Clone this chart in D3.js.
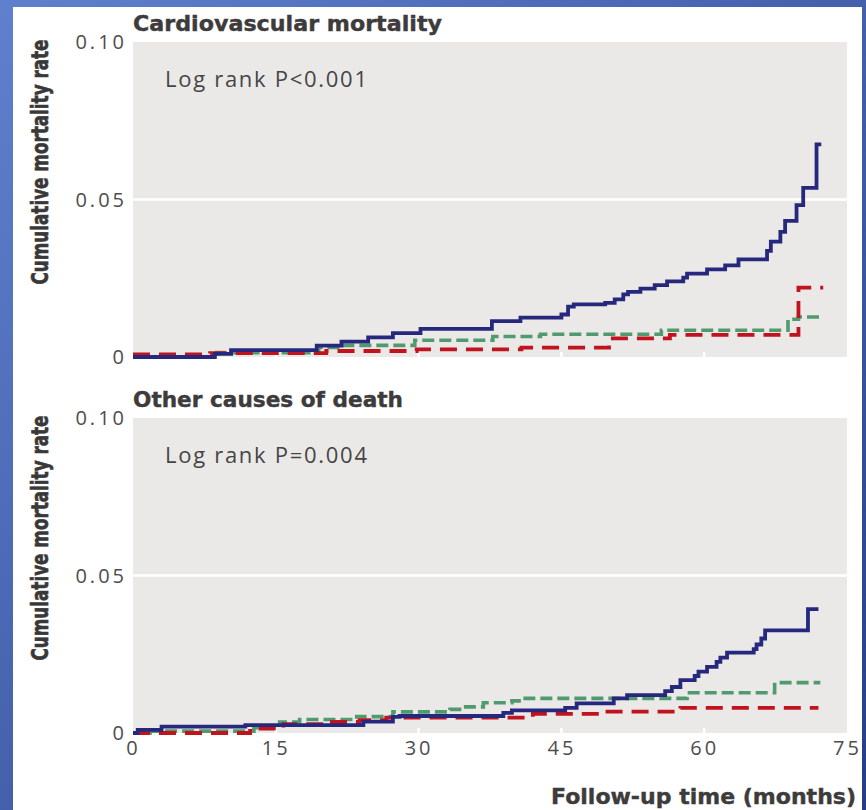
<!DOCTYPE html>
<html>
<head>
<meta charset="utf-8">
<script src="https://cdn.jsdelivr.net/npm/d3@7"></script>
<style>
  body { margin: 0; background: #fff; }
  svg { display: block; }
</style>
</head>
<body>
<svg id="chart"></svg>
<script>
const w = 866;
const h = 810;

const xTicks = [0, 15, 30, 45, 60, 75];
const yTicks = [0, 0.05, 0.10];
const yTickLabels = ["0", "0.05", "0.10"];

const panelTitles = ["Cardiovascular mortality", "Other causes of death"];
const logRankText = ["Log rank P<0.001", "Log rank P=0.004"];

// [months, cumulative rate]
const cvNavy = [[0,0],[8.6,0.001],[10.3,0.0022],[19.3,0.0036],[21.9,0.0049],[24.7,0.0062],[27.3,0.0076],[30.2,0.0089],[37.7,0.0114],[40.7,0.0125],[45.0,0.0135],[45.7,0.016],[46.3,0.0167],[49.6,0.0172],[50.6,0.0183],[51.5,0.0199],[52.0,0.0207],[53.3,0.0217],[54.8,0.0228],[56.1,0.024],[57.8,0.0252],[58.2,0.0265],[60.3,0.0278],[62.2,0.0291],[63.6,0.031],[66.6,0.0337],[67.0,0.0366],[68.0,0.0397],[68.5,0.0432],[69.7,0.0482],[70.4,0.0537],[71.8,0.0675],[72.3,0.0675]];
const cvGreen = [[0,0],[8.8,0.0014],[19.5,0.003],[21.5,0.0037],[29.6,0.0053],[37.8,0.0065],[42.8,0.0072],[55.5,0.0085],[68.8,0.012],[69.9,0.0127],[72.5,0.0127]];
const cvRed = [[0,0.0008],[8.1,0.0012],[20.3,0.0019],[29.8,0.0024],[40.8,0.003],[50.0,0.0059],[56.4,0.007],[69.9,0.022],[72.5,0.022]];

const otherNavy = [[0,0],[0.5,0.001],[3.0,0.002],[11.8,0.0025],[24.2,0.0036],[27.3,0.0051],[28.0,0.0054],[38.9,0.0064],[39.8,0.0072],[45.4,0.008],[46.6,0.0094],[50.5,0.011],[51.9,0.012],[55.9,0.0133],[56.6,0.0146],[57.5,0.0168],[59.0,0.0181],[59.4,0.0195],[60.3,0.021],[61.3,0.0226],[61.7,0.0239],[62.4,0.0255],[65.2,0.0266],[65.5,0.0281],[66.0,0.03],[66.4,0.0326],[70.9,0.0393],[72.0,0.0393]];
const otherGreen = [[0,0],[1.8,0.0006],[12.7,0.0017],[15.4,0.0035],[17.5,0.0043],[23.5,0.0052],[27.3,0.0067],[33.3,0.0075],[34.3,0.0083],[36.8,0.0096],[39.8,0.0102],[40.8,0.011],[58.2,0.0128],[67.4,0.016],[72.2,0.016]];
const otherRed = [[0,0],[12.3,0.0014],[15.8,0.0028],[20.0,0.0035],[23.8,0.0041],[26.6,0.0049],[42.0,0.0061],[49.2,0.0068],[57.5,0.008],[72.0,0.008]];

const panelSeries = [
  [cvGreen, cvRed, cvNavy],
  [otherGreen, otherRed, otherNavy]
];
const seriesStyle = [
  {col: "#4f9b6d", width: 3.6, dash: "12,5"},
  {col: "#c1131d", width: 3.8, dash: "17,9"},
  {col: "#26287d", width: 3.8, dash: null}
];

const svg = d3.select("#chart").attr("width", w).attr("height", h);

// blue frame
const defs = svg.append("defs");
const grad = defs.append("linearGradient").attr("id", "frame")
  .attr("x1", "0").attr("y1", "0").attr("x2", "1").attr("y2", "1");
grad.append("stop").attr("offset", "0").attr("stop-color", "#5f80cd");
grad.append("stop").attr("offset", "0.6").attr("stop-color", "#3f5aa5");
grad.append("stop").attr("offset", "1").attr("stop-color", "#263d86");
svg.append("rect").attr("width", w).attr("height", h).attr("fill", "url(#frame)");
svg.append("rect").attr("x", 13).attr("y", 7).attr("width", 849).attr("height", h - 7).attr("fill", "#fff");

const left = 133, right = 847;
const panelTop = [42, 418];
const panelH = 315;

const x = d3.scaleLinear().domain([0, 75]).range([left, right]);

const tickFont = "'Open Sans', 'Lato', sans-serif";
const boldFont = "'DejaVu Sans', sans-serif";
const titleLen = [309, 270];

panelTop.forEach((top, i) => {
  const y = d3.scaleLinear().domain([0, 0.10]).range([top + panelH, top]);
  const g = svg.append("g");

  g.append("rect").attr("x", left).attr("y", top)
    .attr("width", right - left).attr("height", panelH).attr("fill", "#ebe9e8");

  // horizontal grid at 0.05
  g.append("line").attr("x1", left).attr("x2", right)
    .attr("y1", y(0.05)).attr("y2", y(0.05))
    .attr("stroke", "#fff").attr("stroke-width", 2.5);

  // short white notches at the x ticks
  g.selectAll(".notch").data(xTicks.filter(t => t > 0 && t < 75)).enter()
    .append("line").attr("class", "notch")
    .attr("x1", d => x(d)).attr("x2", d => x(d))
    .attr("y1", top + panelH - 5).attr("y2", top + panelH)
    .attr("stroke", "#fff").attr("stroke-width", 2.5);

  // y tick labels
  g.selectAll(".ylab").data(yTicks).enter().append("text")
    .attr("class", "ylab")
    .attr("x", 127).attr("y", d => y(d)).attr("dy", "0.36em")
    .attr("text-anchor", "end")
    .attr("font-family", tickFont).attr("font-weight", 400)
    .attr("font-size", 20).attr("letter-spacing", 3).attr("fill", "#4d4d4d")
    .text((d, k) => yTickLabels[k]);

  // y axis title (condensed look: smaller font stretched across the line)
  g.append("text")
    .attr("transform", `translate(48,${top + 120}) rotate(-90) scale(1,1.3)`)
    .attr("text-anchor", "middle")
    .attr("font-family", "'DejaVu Sans Condensed', 'Liberation Sans Narrow', 'DejaVu Sans', sans-serif")
    .attr("font-stretch", "condensed")
    .attr("font-weight", "bold").attr("font-size", 17.5).attr("fill", "#383838")
    .attr("stroke", "#383838").attr("stroke-width", 0.5)
    .attr("textLength", 245).attr("lengthAdjust", "spacingAndGlyphs")
    .text("Cumulative mortality rate");

  // panel title
  g.append("text").attr("x", left).attr("y", top - 11.5)
    .attr("font-family", boldFont).attr("font-weight", "bold")
    .attr("font-size", 21.3).attr("fill", "#3d3b3b")
    .attr("stroke", "#3d3b3b").attr("stroke-width", 0.4)
    .attr("textLength", titleLen[i]).attr("lengthAdjust", "spacingAndGlyphs")
    .text(panelTitles[i]);

  // log rank
  g.append("text").attr("x", 165).attr("y", top + 45)
    .attr("font-family", tickFont).attr("font-weight", 400)
    .attr("font-size", 22).attr("fill", "#454545")
    .attr("textLength", 202).attr("lengthAdjust", "spacing")
    .text(logRankText[i]);

  const line = d3.line().x(d => x(d[0])).y(d => y(d[1])).curve(d3.curveStepAfter);
  panelSeries[i].forEach((s, k) => {
    const st = seriesStyle[k];
    g.append("path").datum(s)
      .attr("d", line)
      .attr("fill", "none")
      .attr("stroke", st.col)
      .attr("stroke-width", st.width)
      .attr("stroke-dasharray", st.dash)
      .attr("stroke-linejoin", "miter");
  });

  if (i === 1) {
    const xAxis = d3.axisBottom(x).tickValues(xTicks).tickSize(0).tickPadding(8);
    const ax = svg.append("g").attr("transform", `translate(0,${top + panelH})`).call(xAxis);
    ax.select(".domain").remove();
    ax.selectAll("text")
      .attr("font-family", tickFont).attr("font-weight", 400)
      .attr("font-size", 20).attr("letter-spacing", 3).attr("fill", "#4d4d4d");
  }
});

svg.append("text").attr("x", 856).attr("y", 804)
  .attr("text-anchor", "end")
  .attr("font-family", boldFont).attr("font-weight", "bold")
  .attr("font-size", 21).attr("fill", "#3d3b3b")
  .attr("stroke", "#3d3b3b").attr("stroke-width", 0.4)
  .attr("textLength", 305).attr("lengthAdjust", "spacingAndGlyphs")
  .text("Follow-up time (months)");
</script>
</body>
</html>
